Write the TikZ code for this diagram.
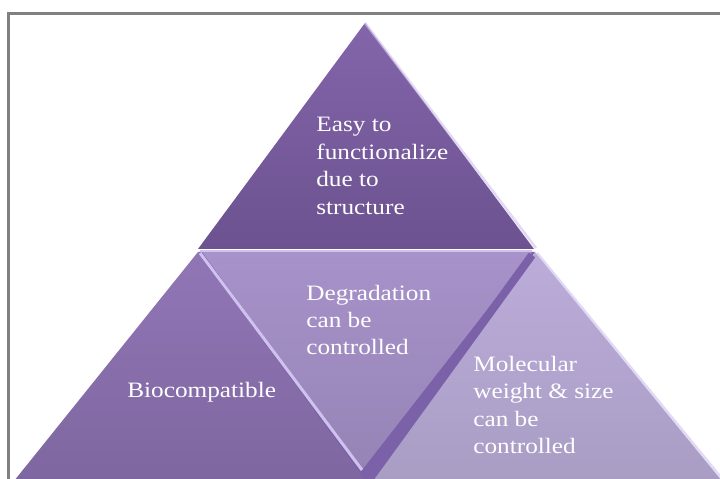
\documentclass[tikz,border=0pt]{standalone}
\usepackage{fontspec}
\setmainfont[FakeStretch=1.15]{Liberation Serif}
\usetikzlibrary{positioning,calc}

\definecolor{topA}{HTML}{8365AA}
\definecolor{topB}{HTML}{6C5290}
\definecolor{leftA}{HTML}{9176B6}
\definecolor{leftB}{HTML}{7E67A0}
\definecolor{midA}{HTML}{A792C9}
\definecolor{midB}{HTML}{9684B6}
\definecolor{rightA}{HTML}{BBACD9}
\definecolor{rightB}{HTML}{A99DC4}
\definecolor{edgeLight}{HTML}{CFC2EE}
\definecolor{edgeDark}{HTML}{7B61A8}

\tikzset{
  label text/.style={text=white, align=left, anchor=west, inner sep=0pt,
    font=\fontsize{12.5}{15.6}\selectfont},
}

\begin{document}
\begin{tikzpicture}[x=0.02cm,y=-0.02cm]
						
						\useasboundingbox (0,0) rectangle (720,479);
						\clip (0,0) rectangle (720,479);
						\fill[white] (0,0) rectangle (720,479);
						
						% Frame
						\draw[line width=3*0.02cm, gray] (8,14) rectangle (740,500);
						
						% Corners of the pyramid
						\coordinate (apex) at (365,23);
						\coordinate (ml) at (198,249);
						\coordinate (mr) at (534,249);
						\coordinate (bl) at (14,481);
						\coordinate (bm) at (366,481);
						\coordinate (br) at (722,481);
						\coordinate (vm) at (362,470);
						
						% Dark ground behind the lower row
						\fill[edgeDark] ($(ml)+(0,3)$) -- ($(mr)+(1,3)$) -- ($(bm)+(8,0)$) -- ($(bm)+(-2,0)$) -- cycle;
						
						% Triangles
						\shade[top color=topA, bottom color=topB] (apex) -- (ml) -- (mr) -- cycle;
						\shade[top color=leftA, bottom color=leftB] ($(ml)+(0,3)$) -- (bl) -- (bm) -- cycle;
						\shade[top color=midA, bottom color=midB] ($(ml)+(4,3)$) -- ($(mr)+(-2,3)$) -- (vm) -- cycle;
						\shade[top color=rightA, bottom color=rightB] ($(mr)+(1,3)$) -- (br) -- ($(bm)+(6,0)$) -- cycle;
						
						% Edges between the triangles
						\draw[edgeLight, line width=0.05cm] ($(ml)+(2,2)$) -- ($(mr)+(-2,2)$);
						\draw[edgeLight, line width=0.06cm] ($(ml)+(2,4)$) -- (vm);
						\draw[edgeDark, line width=0.16cm] ($(mr)+(-2,6)$) -- ($(bm)+(2,0)$);
						\draw[edgeLight, line width=0.05cm, opacity=0.6] ($(mr)+(3,4)$) -- ($(br)+(2,0)$);
						\draw[edgeLight, line width=0.05cm, opacity=0.6] (apex) -- ($(mr)+(2,-1)$);
						
						% Labels
						\node[label text] (easy) at (316,166) {Easy to\\functionalize\\due to\\structure};
						\node[label text] (degrad) at (306,320) {Degradation\\can be\\controlled};
						\node[label text] (biocomp) at (127,392) {Biocompatible};
						\node[label text] (molec) at (473,405) {Molecular\\weight \& size\\can be\\controlled};
						
					\end{tikzpicture}
\end{document}
